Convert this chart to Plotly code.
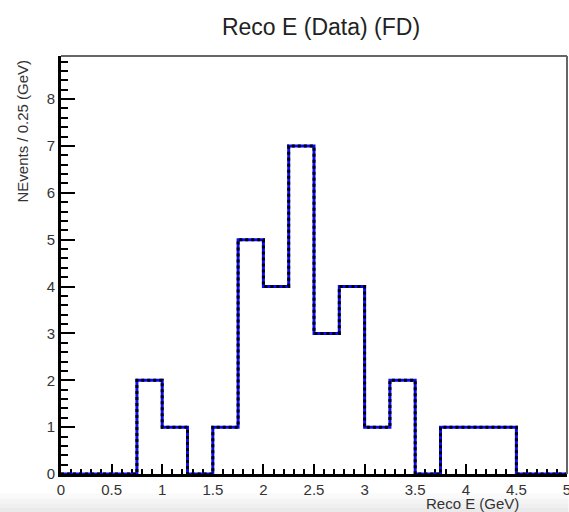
import plotly.graph_objects as go

# Data
bin_edges = [round(0.25 * i, 2) for i in range(21)]
counts = [0, 0, 0, 2, 1, 0, 1, 5, 4, 7, 3, 4, 1, 2, 0, 1, 1, 1, 0, 0]
title_text = "Reco E (Data) (FD)"
x_title = "Reco E (GeV)"
y_title = "NEvents / 0.25 (GeV)"

step_y = counts + [counts[-1]]

W, H = 569, 512
L, R, T, B = 61, 1.5, 56, 37.5
pw = W - L - R
ph = H - T - B

def px_x(px):
    return (px - L) / pw

def px_y(py):
    return (H - B - py) / ph

fig = go.Figure()
fig.add_trace(go.Scatter(x=bin_edges, y=step_y, mode="lines", line_shape="hv",
                         line=dict(color="#0a0aff", width=3), cliponaxis=False,
                         hoverinfo="skip", showlegend=False))
fig.add_trace(go.Scatter(x=bin_edges, y=step_y, mode="lines", line_shape="hv",
                         line=dict(color="black", width=3, dash="3px,3px"), cliponaxis=False,
                         hoverinfo="skip", showlegend=False))

font_family = "Liberation Sans, Arial, sans-serif"

fig.update_layout(
    width=W, height=H,
    margin=dict(l=L, r=R, t=T, b=B, pad=0, autoexpand=False),
    paper_bgcolor="white", plot_bgcolor="white",
    font=dict(family=font_family, color="#222", size=14),
    title=dict(text=title_text, x=321 / W, xanchor="center", xref="container",
               y=1 - 27 / H, yanchor="middle", yref="container",
               font=dict(size=23, family=font_family, color="#222")),
    xaxis=dict(range=[0, 5], tick0=0, dtick=0.5, ticks="inside", ticklen=10, tickwidth=2,
               tickcolor="black", showgrid=False, zeroline=False, showline=True,
               linecolor="black", linewidth=3, layer="below traces", automargin=False,
               ticklabeloverflow="allow",
               tickfont=dict(size=15, color="#333"),
               minor=dict(dtick=0.1, ticks="inside", ticklen=5, tickwidth=2, tickcolor="black", showgrid=False)),
    yaxis=dict(range=[0, 8.92], tick0=0, dtick=1, ticks="inside", ticklen=14, tickwidth=2,
               tickcolor="black", showgrid=False, zeroline=False, showline=True,
               linecolor="black", linewidth=3, layer="below traces", automargin=False,
               ticklabeloverflow="allow",
               tickfont=dict(size=15, color="#333"),
               minor=dict(dtick=0.2, ticks="inside", ticklen=7, tickwidth=2, tickcolor="black", showgrid=False)),
)

# bottom gray gradient
bands = [(494, 499, "#fafafa"), (499, 504, "#f4f4f4"), (504, 508, "#efefef"), (508, 513, "#eaeaea")]
for y0, y1, c in bands:
    fig.add_shape(type="rect", xref="paper", yref="paper",
                  x0=px_x(0), x1=px_x(W), y0=px_y(y1), y1=px_y(y0),
                  fillcolor=c, line=dict(width=0), layer="below")

# top and right frame lines
fig.add_shape(type="line", xref="paper", yref="paper", x0=0, x1=1, y0=1, y1=1,
              line=dict(color="#666", width=2))
fig.add_shape(type="line", xref="paper", yref="paper", x0=1, x1=1, y0=0, y1=1,
              line=dict(color="#666", width=2))

fig.add_annotation(text=x_title, xref="paper", yref="paper", x=px_x(521), y=px_y(504),
                   xanchor="right", yanchor="middle", showarrow=False,
                   font=dict(size=15, color="#333", family=font_family))
fig.add_annotation(text=y_title, xref="paper", yref="paper", x=px_x(22), y=px_y(58),
                   xanchor="center", yanchor="top", textangle=-90, showarrow=False,
                   font=dict(size=15, color="#333", family=font_family))

fig.write_html("out.html", config={"displayModeBar": False},
               post_script="document.body.style.margin='0';document.body.style.overflow='hidden';")
